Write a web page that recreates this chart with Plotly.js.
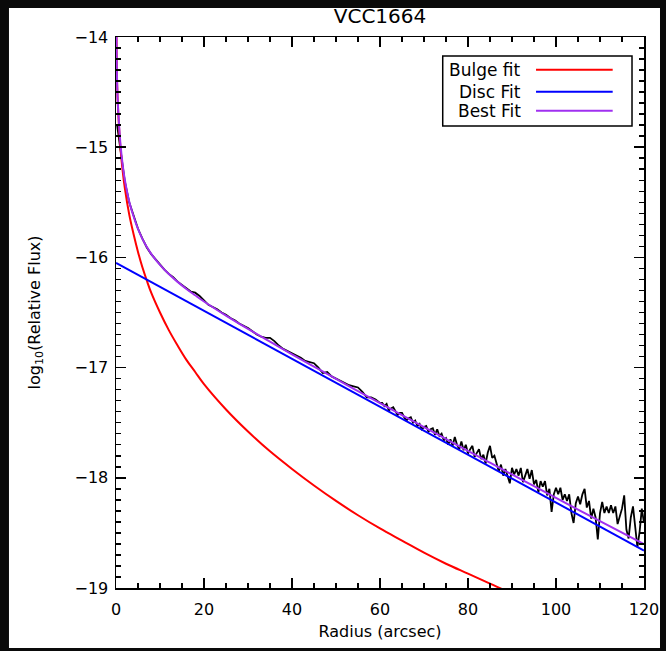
<!DOCTYPE html>
<html><head><meta charset="utf-8">
<script src="https://cdn.plot.ly/plotly-3.0.1.min.js"></script>
<style>
html,body{margin:0;padding:0;background:#0a0a0a;width:666px;height:651px;overflow:hidden}
#plot{position:absolute;left:0;top:0;width:666px;height:651px}
</style></head><body><div id="plot"></div><script>
// Observed profile (black)
var obsRadius = [0.25,0.5,
1,2,3,4,5,6,7,8,9,10,11,12,13,14,15,16,17,18,19,20,
21,22,23,24,25,26,27,28,29,30,31,32,33,34,35,36,37,38,39,40,
41,42,43,44,45,46,47,48,49,50,51,52,53,54,55,56,57,58,59,60,
60.5,61,61.5,62,62.5,63,63.5,64,64.5,65,65.5,66,66.5,67,67.5,68,68.5,69,69.5,70,
70.5,71,71.5,72,72.5,73,73.5,74,74.5,75,75.5,76,76.5,77,77.5,78,78.5,79,79.5,80,
80.5,81,81.5,82,82.5,83,83.5,84,84.5,85,85.5,86,86.5,87,87.5,88,88.5,89,89.5,90,
90.5,91,91.5,92,92.5,93,93.5,94,94.5,95,95.5,96,96.5,97,97.5,98,98.5,99,99.5,100,
100.5,101,101.5,102,102.5,103,103.5,104,104.5,105,105.5,106,106.5,107,107.5,108,108.5,109,109.5,110,
110.5,111,111.5,112,112.5,113,113.5,114,114.5,115,115.5,116,116.5,117,117.5,118,118.5,119,119.5,120];
var obsFlux = [-14.80,-14.88,
-15.00,-15.31,-15.50,-15.63,-15.74,-15.83,-15.91,-15.97,-16.02,-16.07,-16.11,-16.15,-16.18,-16.22,-16.25,-16.28,-16.31,-16.32,-16.35,-16.39,
-16.43,-16.45,-16.47,-16.50,-16.52,-16.55,-16.57,-16.60,-16.62,-16.64,-16.67,-16.70,-16.72,-16.73,-16.73,-16.76,-16.80,-16.83,-16.85,-16.87,
-16.89,-16.91,-16.94,-16.95,-16.96,-17.00,-17.05,-17.04,-17.08,-17.10,-17.12,-17.14,-17.16,-17.17,-17.18,-17.22,-17.27,-17.27,-17.29,-17.32,
-17.32,-17.35,-17.33,-17.39,-17.37,-17.36,-17.40,-17.43,-17.41,-17.41,-17.45,-17.48,-17.46,-17.45,-17.50,-17.48,-17.53,-17.51,-17.56,-17.54,
-17.53,-17.58,-17.56,-17.55,-17.61,-17.56,-17.62,-17.60,-17.66,-17.64,-17.70,-17.65,-17.71,-17.63,-17.70,-17.74,-17.67,-17.75,-17.70,-17.78,
-17.74,-17.71,-17.81,-17.77,-17.74,-17.83,-17.79,-17.87,-17.77,-17.71,-17.82,-17.80,-17.87,-17.94,-17.88,-17.98,-17.92,-17.98,-18.05,-17.91,
-17.97,-17.92,-17.98,-17.91,-18.04,-17.98,-17.92,-18.01,-17.93,-18.06,-18.02,-18.13,-18.03,-18.08,-18.03,-18.16,-18.10,-18.31,-18.15,-18.09,
-18.15,-18.09,-18.20,-18.15,-18.21,-18.15,-18.32,-18.41,-18.23,-18.17,-18.24,-18.15,-18.10,-18.27,-18.21,-18.37,-18.28,-18.36,-18.56,-18.32,
-18.22,-18.32,-18.26,-18.32,-18.25,-18.32,-18.26,-18.42,-18.35,-18.28,-18.16,-18.47,-18.55,-18.36,-18.26,-18.42,-18.63,-18.49,-18.28,-18.41];

// Model fits
var fitRadius = [0,0.25,0.5,1,1.5,2,3,4,5,6,7,8,10,12,14,16,18,20,25,30,35,40,45,50,55,60,65,70,75,80,85,90,95,100,110,120];
var bulgeFlux = [-13.05,-14.42,-14.68,-15.00,-15.21,-15.37,-15.61,-15.79,-15.95,-16.09,-16.21,-16.32,-16.50,-16.66,-16.80,-16.93,-17.04,-17.15,-17.38,-17.58,-17.76,-17.92,-18.07,-18.21,-18.34,-18.46,-18.57,-18.68,-18.78,-18.87,-18.96,-19.05,-19.13,-19.21,-19.36,-19.50];
var bestFlux = [-13.05,-14.41,-14.66,-14.965,-15.156,-15.295,-15.492,-15.629,-15.742,-15.832,-15.905,-15.968,-16.068,-16.151,-16.222,-16.286,-16.344,-16.400,-16.528,-16.649,-16.765,-16.879,-16.991,-17.103,-17.213,-17.322,-17.431,-17.540,-17.648,-17.756,-17.863,-17.970,-18.076,-18.183,-18.394,-18.602];
var discRadius = [0,120];
var discFlux = [-16.05,-18.66];

var seriesNames = ['Bulge fit','Disc Fit','Best Fit'];
var seriesColors = ['#ff0000','#0000ff','#a030f0'];
var xTicks = [0,20,40,60,80,100,120];
var yTicks = [-19,-18,-17,-16,-15,-14];

var FONT = 'DejaVu Sans, sans-serif';

var traces = [
  {x: obsRadius, y: obsFlux, mode:'lines', line:{color:'#000000', width:1.8}, name:'Data', showlegend:false},
  {x: fitRadius, y: bulgeFlux, mode:'lines', line:{color:seriesColors[0], width:2, shape:'spline'}, name:seriesNames[0], showlegend:false},
  {x: discRadius, y: discFlux, mode:'lines', line:{color:seriesColors[1], width:2}, name:seriesNames[1], showlegend:false},
  {x: fitRadius, y: bestFlux, mode:'lines', line:{color:seriesColors[2], width:2, shape:'spline'}, name:seriesNames[2], showlegend:false}
];

// white page panel behind the plot (the surround is dark)
var shapes = [{type:'rect', xref:'paper', yref:'paper', layer:'below',
  x0:-0.2027, x1:1.0303, y0:-0.1089, y1:1.0526,
  line:{width:0}, fillcolor:'#ffffff'}];

// manual legend (text left of line sample, like the original)
var legX0 = 0.6188, legX1 = 0.9773, legY0 = 0.8385, legY1 = 0.9655;
var textRight = 0.770, lineX0 = 0.7955, lineX1 = 0.9407;
var rowY = [0.9407, 0.9007, 0.8663];
shapes.push({type:'rect', xref:'paper', yref:'paper', x0:legX0, x1:legX1, y0:legY0, y1:legY1,
  line:{color:'#000', width:1.5}, fillcolor:'rgba(255,255,255,0)'});
var annotations = [];
for (var i=0;i<3;i++){
  shapes.push({type:'line', xref:'paper', yref:'paper', x0:lineX0, x1:lineX1, y0:rowY[i], y1:rowY[i],
    line:{color:seriesColors[i], width:2}});
  annotations.push({xref:'paper', yref:'paper', x:textRight, y:rowY[i], xanchor:'right', yanchor:'middle',
    text:seriesNames[i], showarrow:false, font:{family:FONT, size:17, color:'#000'}});
}

var axisCommon = {
  ticks:'inside', ticklen:10, tickwidth:1.5, tickcolor:'#000',
  showline:true, linecolor:'#000', linewidth:1.5, mirror:'allticks',
  showgrid:false, zeroline:false, automargin:false, autorange:false,
  tickfont:{family:FONT, size:16, color:'#000'}
};

var layout = {
  width:666, height:651,
  margin:{l:116, r:22, t:37, b:63},
  paper_bgcolor:'#0a0a0a', plot_bgcolor:'#ffffff',
  showlegend:false,
  title:{text:'VCC1664', font:{family:FONT, size:20, color:'#000'}, x:0.5, xref:'paper', xanchor:'center',
    y:1-16/651, yref:'container', yanchor:'middle'},
  xaxis: Object.assign({}, axisCommon, {
    range:[0,120], tickvals:xTicks, ticktext:xTicks.map(String),
    minor:{dtick:5, ticks:'inside', ticklen:5, tickwidth:1.5, tickcolor:'#000', showgrid:false},
    ticklabelstandoff:6,
    title:{text:'Radius (arcsec)', font:{family:FONT, size:16, color:'#000'}, standoff:8}
  }),
  yaxis: Object.assign({}, axisCommon, {
    range:[-19,-14], tickvals:yTicks,
    minor:{dtick:0.1, ticks:'inside', ticklen:5, tickwidth:1.5, tickcolor:'#000', showgrid:false},
    ticklabelstandoff:3,
    title:{text:'log<sub>10</sub>(Relative Flux)', font:{family:FONT, size:16, color:'#000'}, standoff:30}
  }),
  shapes:shapes,
  annotations:annotations
};

Plotly.newPlot('plot', traces, layout, {displayModeBar:false, staticPlot:true});
</script></body></html>
